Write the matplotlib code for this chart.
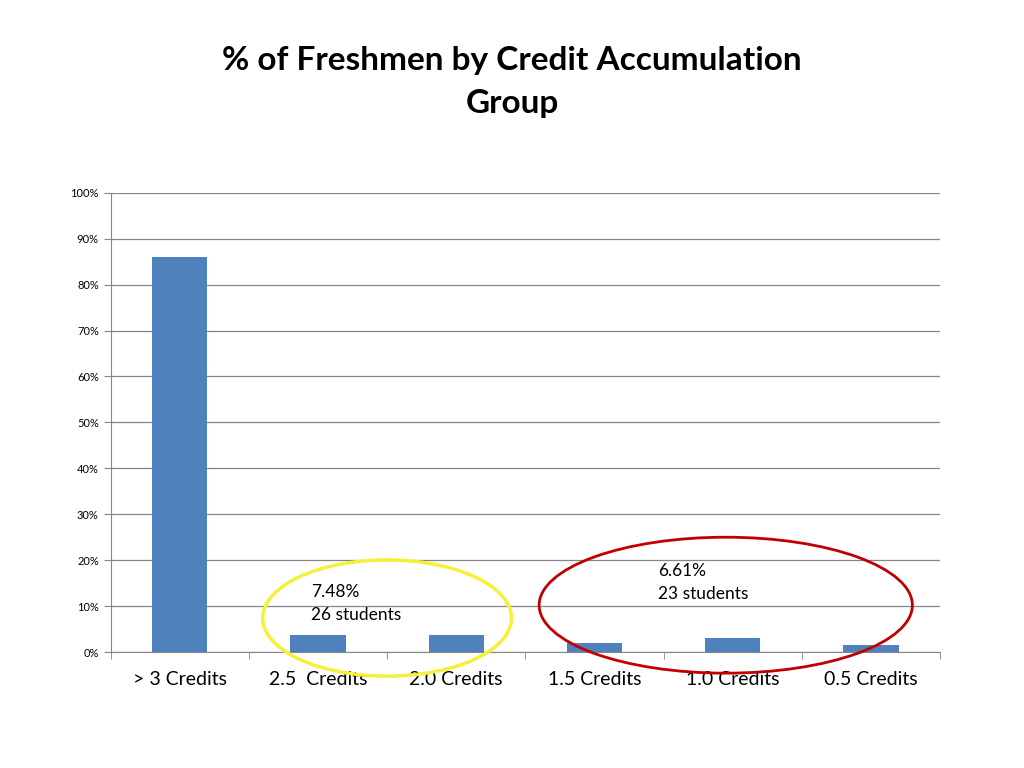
import matplotlib.pyplot as plt
from matplotlib.patches import Ellipse
import numpy as np

categories = ["> 3 Credits", "2.5  Credits", "2.0 Credits", "1.5 Credits", "1.0 Credits", "0.5 Credits"]
percent = [85.91, 3.74, 3.74, 2.01, 3.16, 1.44]
yticks = [0, 10, 20, 30, 40, 50, 60, 70, 80, 90, 100]

plt.rcParams["font.family"] = "Lato"
fig = plt.figure(figsize=(10.24, 7.68), dpi=100)
ax = fig.add_axes([0.108, 0.151, 0.81, 0.598])

x = np.arange(len(categories))
ax.bar(x, percent, width=0.4, color="#4F81BD", zorder=3)
ax.set_xlim(-0.5, len(categories) - 0.5)
ax.set_ylim(0, 100)
ax.set_yticks(yticks)
ax.set_yticklabels([f"{v}%" for v in yticks], fontsize=8)
ax.yaxis.grid(True, color="#868686", linewidth=0.9, zorder=0)
ax.set_xticks(x)
ax.set_xticklabels(categories, fontsize=14)
ax.set_xticks(np.arange(-0.5, len(categories)), minor=True)
ax.tick_params(axis="x", which="major", length=0, pad=14)
ax.tick_params(axis="x", which="minor", length=5, color="#868686")
ax.tick_params(axis="y", length=5, color="#868686")
for s in ["top", "right"]:
    ax.spines[s].set_visible(False)
for s in ["left", "bottom"]:
    ax.spines[s].set_color("#868686")

ax.add_patch(Ellipse((1.5, 7.4), 1.8, 25.3, fill=False, edgecolor="#F5F03A",
                     linewidth=2.5, clip_on=False, zorder=5))
ax.add_patch(Ellipse((3.95, 10.2), 2.7, 29.6, fill=False, edgecolor="#C00000",
                     linewidth=2, clip_on=False, zorder=5))
ax.text(0.95, 14.8, "7.48%\n26 students", fontsize=12.5, va="top", linespacing=1.55)
ax.text(3.46, 19.4, "6.61%\n23 students", fontsize=12.5, va="top", linespacing=1.55)

fig.suptitle("% of Freshmen by Credit Accumulation\nGroup", fontsize=24,
             fontweight="bold", y=0.94, linespacing=1.6)
fig.savefig("out.png", dpi=100)
